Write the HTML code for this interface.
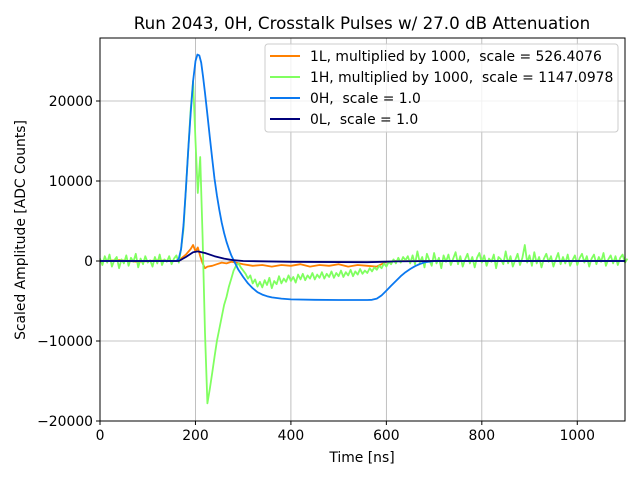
<!DOCTYPE html>
<html><head><meta charset="utf-8"><style>
body{margin:0;background:#fff;}
svg{display:block;font-family:"DejaVu Sans","Liberation Sans",sans-serif;}
text{white-space:pre;}
</style></head><body>
<svg id="chart" width="640" height="480">
<rect width="640" height="480" fill="#fff"/>
<text x="362" y="29" font-size="16.7" text-anchor="middle">Run 2043, 0H, Crosstalk Pulses w/ 27.0 dB Attenuation</text>
<g id="grid"></g>
<g id="ticks"></g>
<g id="plot"></g>
<rect x="100" y="38" width="525" height="383" fill="none" stroke="#000" stroke-width="1"/>
<text x="362" y="462" font-size="13.9" text-anchor="middle">Time [ns]</text>
<text transform="translate(25,230) rotate(-90)" font-size="13.9" text-anchor="middle">Scaled Amplitude [ADC Counts]</text>
<g>
<rect x="265" y="44" width="353" height="88" rx="3" fill="#fff" fill-opacity="0.8" stroke="#ccc"/>
<g><line x1="270" y1="56" x2="300" y2="56" stroke="#ff8000" stroke-width="2"/><text x="310" y="61" font-size="13.9" xml:space="preserve">1L, multiplied by 1000,  scale = 526.4076</text></g>
<g><line x1="270" y1="77" x2="300" y2="77" stroke="#80ff60" stroke-width="2"/><text x="310" y="82" font-size="13.9" xml:space="preserve">1H, multiplied by 1000,  scale = 1147.0978</text></g>
<g><line x1="270" y1="98" x2="300" y2="98" stroke="#0a78f0" stroke-width="2"/><text x="310" y="103" font-size="13.9" xml:space="preserve">0H,  scale = 1.0</text></g>
<g><line x1="270" y1="119" x2="300" y2="119" stroke="#00007a" stroke-width="2"/><text x="310" y="124" font-size="13.9" xml:space="preserve">0L,  scale = 1.0</text></g>
</g>
</svg>
<script>
const xTicks=[0,200,400,600,800,1000];
const yTicks=[-20000,-10000,0,10000,20000];
const yTickLabels=["\u221220000","\u221210000","0","10000","20000"];
const greenStep=5;
const green=[300,-500,600,-200,800,-700,100,500,-900,200,-300,700,-600,400,-100,900,-800,300,-400,600,-200,100,-700,500,-300,800,-500,200,-100,600,-400,300,700,-200,
1500,4000,9000,14000,19000,22500,15000,8500,13000,3000,-9000,-17800,-16000,-14000,-12000,-10000,-8500,-7000,-5500,-4500,-3200,-2200,-1200,-600,-300,-800,-1200,-1600,-2200,-1800,-2800,-2300,-3200,-2600,-3300,-2400,-3000,-2100,-3400,-2500,-2900,-1900,-2800,-2200,-2600,-1800,-2500,-2000,-2700,-1700,-2300,-1600,-2400,-1800,-2200,-1500,-2300,-1700,-2100,-1400,-2200,-1600,-2000,-1300,-2100,-1500,-1900,-1200,-2000,-1400,-1800,-1100,-1900,-1300,-1700,-1000,-1600,-1200,-1500,-900,-1300,-800,-1100,-600,-900,-300,-700,-100,-400,200,-300,400,-200,500,100,600,-300,
700,-400,1200,-200,500,-800,900,100,-600,1000,-300,400,-900,700,-100,800,-500,300,1100,-400,600,-700,200,900,-300,500,-800,400,1000,-200,700,-600,300,-100,800,-900,500,200,-400,1200,-300,600,-700,100,900,-500,400,2000,-200,700,-600,1100,-300,500,-800,300,900,-100,600,-700,200,1000,-400,500,-300,800,-600,100,700,-500,400,900,-200,600,-700,300,800,-400,500,-100,1000,-600,200,700,-300,600,-500,400,800,-200,300];
const orangeT=[0,40,80,120,160,170,180,190,195,200,205,210,215,220,225,235,245,255,265,275,285,300,320,340,360,380,400,420,440,460,480,500,520,540,560,580,590,600,620,700,800,900,1000,1100];
const orange=[0,100,-100,80,0,300,800,1500,2000,1200,1700,600,-300,-900,-700,-600,-400,-200,-300,-100,-200,-400,-600,-500,-700,-500,-600,-400,-700,-500,-600,-400,-700,-500,-600,-700,-400,-100,0,0,0,0,0,0];
const blueT=[0,160,165,170,175,180,185,190,195,200,204,208,212,216,220,225,230,235,240,245,250,255,260,265,270,275,280,285,290,300,310,320,330,340,350,360,380,400,450,500,560,570,580,590,600,610,620,630,640,650,660,670,680,700,1100];
const blue=[0,0,300,1500,4500,9000,14000,18500,22500,25000,25800,25700,24800,23000,21000,18300,15500,12800,10300,8200,6400,4800,3500,2400,1500,700,100,-500,-1100,-2000,-2800,-3400,-3900,-4200,-4400,-4550,-4700,-4800,-4850,-4870,-4870,-4850,-4700,-4300,-3700,-3100,-2500,-1900,-1400,-1000,-650,-380,-180,0,0];
const navyT=[0,165,180,195,205,220,240,260,280,300,400,560,620,700,1100];
const navy=[0,0,500,1100,1200,1000,600,300,100,0,-100,-150,-50,0,0];

const X0=100,X1=625,Y0=421,Y1=38,XMIN=0,XMAX=1100,YMIN=-20000,YMAX=27875;
function sx(v){return X0+(v-XMIN)/(XMAX-XMIN)*(X1-X0);}
function sy(v){return Y0-(v-YMIN)/(YMAX-YMIN)*(Y0-Y1);}
const NS="http://www.w3.org/2000/svg";
const grid=document.getElementById('grid'),ticks=document.getElementById('ticks'),plot=document.getElementById('plot');
function mk(tag,attrs,parent){const e=document.createElementNS(NS,tag);for(const k in attrs)e.setAttribute(k,attrs[k]);parent.appendChild(e);return e;}
xTicks.forEach(t=>{
  const g=mk('line',{x1:sx(t),x2:sx(t),y1:Y1,y2:Y0,stroke:'#b0b0b0','stroke-width':0.8},grid);
  
  
  const tk=mk('line',{x1:sx(t),x2:sx(t),y1:Y0,y2:Y0+4,stroke:'#000'},ticks);
  
  
  const l=mk('text',{x:sx(t),y:Y0+19,'font-size':13.9,'text-anchor':'middle'},ticks);
  l.textContent=String(t);
  
  
});
yTicks.forEach((t,i)=>{
  const g=mk('line',{x1:X0,x2:X1,y1:sy(t),y2:sy(t),stroke:'#b0b0b0','stroke-width':0.8},grid);
  
  
  const tk=mk('line',{x1:X0-4,x2:X0,y1:sy(t),y2:sy(t),stroke:'#000'},ticks);
  
  
  const l=mk('text',{x:X0-7,y:sy(t)+5,'font-size':13.9,'text-anchor':'end'},ticks);
  l.textContent=yTickLabels[i];
  
  
});
function line(ts,vs,color,name){
  const pts=ts.map((t,i)=>sx(t).toFixed(1)+','+sy(vs[i]).toFixed(1)).join(' ');
  const p=mk('polyline',{points:pts,fill:'none',stroke:color,'stroke-width':1.8,'stroke-linejoin':'round'},plot);
  
  
}
const greenT=green.map((v,i)=>i*greenStep);
line(orangeT,orange,'#ff8000','series-1l');
line(greenT,green,'#80ff60','series-1h');
line(blueT,blue,'#0a78f0','series-0h');
line(navyT,navy,'#00007a','series-0l');
</script>
</body></html>
